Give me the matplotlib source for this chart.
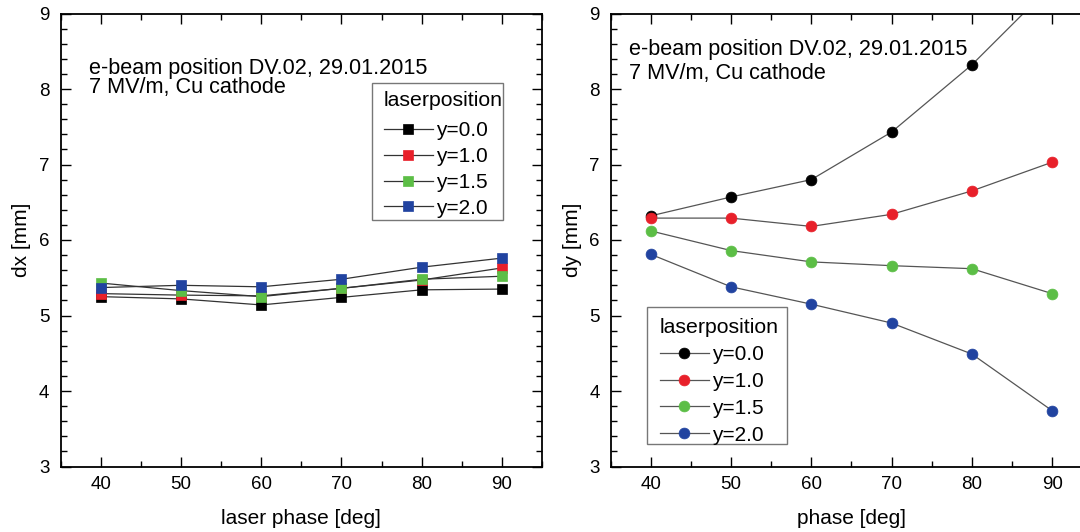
import matplotlib
matplotlib.use("Agg")
import matplotlib.pyplot as plt
from matplotlib.ticker import MultipleLocator
from matplotlib.patches import Rectangle

plt.rcParams['font.family'] = ['Liberation Sans', 'DejaVu Sans']

phase = [40, 50, 60, 70, 80, 90]
labels = ["y=0.0", "y=1.0", "y=1.5", "y=2.0"]
colors = ["#000000", "#E8202A", "#5CBE46", "#2143A0"]

dx_y00 = [5.25, 5.22, 5.14, 5.24, 5.34, 5.35]
dx_y10 = [5.29, 5.27, 5.26, 5.36, 5.47, 5.63]
dx_y15 = [5.43, 5.33, 5.25, 5.36, 5.48, 5.52]
dx_y20 = [5.37, 5.40, 5.38, 5.48, 5.64, 5.76]

dy_y00 = [6.32, 6.57, 6.80, 7.43, 8.32, 9.38]
dy_y10 = [6.29, 6.29, 6.18, 6.34, 6.65, 7.03]
dy_y15 = [6.12, 5.86, 5.71, 5.66, 5.62, 5.29]
dy_y20 = [5.81, 5.38, 5.15, 4.90, 4.49, 3.74]

note1 = "e-beam position DV.02, 29.01.2015"
note2 = "7 MV/m, Cu cathode"

fig = plt.figure(figsize=(10.8, 5.32), dpi=100)
W, H = 1080.0, 532.0
ax1 = fig.add_axes([60.5 / W, (H - 466.5) / H, 481.5 / W, 453 / H])
ax2 = fig.add_axes([610.7 / W, (H - 466.5) / H, 481.5 / W, 453 / H])

def style(ax):
    ax.set_xlim(35, 95)
    ax.set_ylim(3, 9)
    ax.xaxis.set_major_locator(MultipleLocator(10))
    ax.xaxis.set_minor_locator(MultipleLocator(5))
    ax.yaxis.set_major_locator(MultipleLocator(1))
    ax.yaxis.set_minor_locator(MultipleLocator(0.2))
    ax.tick_params(which='both', direction='in', top=True, right=True,
                   width=1.0, color='black')
    ax.tick_params(which='major', length=7)
    ax.tick_params(which='minor', length=4)
    ax.tick_params(axis='x', which='major', labelsize=13.5, pad=7)
    ax.tick_params(axis='y', which='major', labelsize=13.5, pad=8)
    for s in ax.spines.values():
        s.set_linewidth(1.3)
        s.set_color('black')

dx_series = [dx_y00, dx_y10, dx_y15, dx_y20]
dy_series = [dy_y00, dy_y10, dy_y15, dy_y20]

for vals, c, lab in zip(dx_series, colors, labels):
    ax1.plot(phase, vals, '-', color='#333333', lw=0.9, marker='s', ms=6.6,
             mfc=c, mec=c, mew=0.5, label=lab)
for vals, c, lab in zip(dy_series, colors, labels):
    ax2.plot(phase, vals, '-', color='#555555', lw=0.9, marker='o', ms=7.8,
             mfc=c, mec=c, mew=0.5, label=lab)

style(ax1)
style(ax2)

ax1.set_xlabel("laser phase [deg]", fontsize=15, va='center')
ax1.xaxis.set_label_coords(0.5, (466.5 - 518.7) / 453)
ax1.set_ylabel("dx [mm]", fontsize=15, va='center')
ax1.yaxis.set_label_coords((21.7 - 60.5) / 481.5, 0.5)

ax2.set_xlabel("phase [deg]", fontsize=15, va='center')
ax2.xaxis.set_label_coords(0.5, (466.5 - 518.7) / 453)
ax2.set_ylabel("dy [mm]", fontsize=15, va='center')
ax2.yaxis.set_label_coords((572 - 610.7) / 481.5, 0.5)

ax1.text((88.8 - 60.5) / 481.5, (466.5 - 74) / 453, note1, fontsize=15.6,
         transform=ax1.transAxes, va='baseline', ha='left')
ax1.text((88.8 - 60.5) / 481.5, (466.5 - 93) / 453, note2, fontsize=15.6,
         transform=ax1.transAxes, va='baseline', ha='left')
ax2.text((628.8 - 610.7) / 481.5, (466.5 - 55) / 453, note1, fontsize=15.6,
         transform=ax2.transAxes, va='baseline', ha='left')
ax2.text((628.8 - 610.7) / 481.5, (466.5 - 79) / 453, note2, fontsize=15.6,
         transform=ax2.transAxes, va='baseline', ha='left')

def legend(ax, box, cx, cy, pad, spacing, title_sep=None):
    x0, y0, x1, y1 = box
    rect = Rectangle((x0 / W, (H - y1) / H), (x1 - x0) / W, (y1 - y0) / H,
                     transform=fig.transFigure, facecolor='white',
                     edgecolor='#777777', linewidth=1.0, zorder=4,
                     clip_on=False)
    ax.add_artist(rect)
    lg = ax.legend(title="laserposition", loc='upper left',
                   bbox_to_anchor=(cx / W, (H - cy) / H),
                   bbox_transform=fig.transFigure,
                   fontsize=15, title_fontsize=15.3, frameon=False,
                   borderpad=pad, labelspacing=spacing, handlelength=2.35,
                   handletextpad=0.15, borderaxespad=0)
    lg.set_zorder(5)
    lg._legend_box.align = "left"
    if title_sep is not None:
        lg._legend_box.sep = title_sep
    return lg

legend(ax1, (372, 83.3, 503, 220), 384 - 6.25, 91 - 6.25, 0.3, 0.33, 8.0)
legend(ax2, (646.7, 307, 787.2, 443.7), 660, 318, 0.0, 0.38)

fig.savefig("out.png", dpi=100)
